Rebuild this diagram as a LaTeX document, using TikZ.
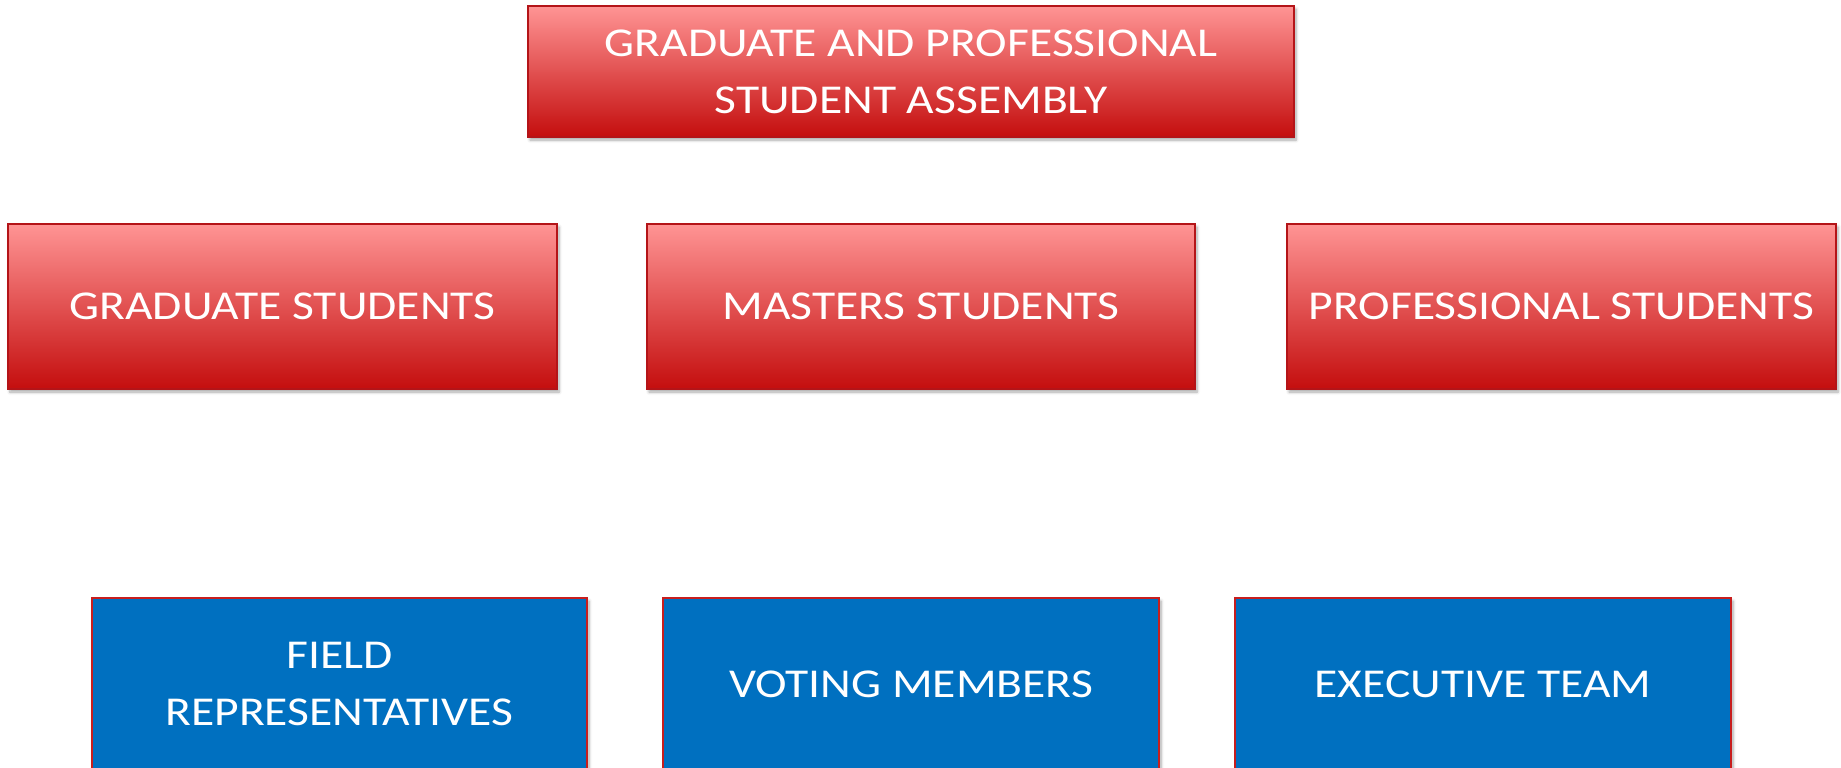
\documentclass[tikz,border=0pt]{standalone}
\usepackage{fontspec}
\setmainfont{Carlito}[FakeStretch=1.16]
\usetikzlibrary{shadows.blur}
\definecolor{redtop}{RGB}{255,148,148}
\definecolor{redbot}{RGB}{196,14,14}
\definecolor{redline}{RGB}{180,20,24}
\definecolor{bluefill}{RGB}{0,112,192}
\definecolor{blueline}{RGB}{200,30,30}
\tikzset{
  boxbase/.style={rectangle, inner sep=0pt, align=center, text=white,
    font=\fontsize{41bp}{57bp}\selectfont, line width=1.2bp,
    blur shadow={shadow xshift=2bp, shadow yshift=-3bp, shadow blur steps=6, shadow blur radius=3bp, shadow opacity=35}},
  redbox/.style={boxbase, draw=redline, top color=redtop, bottom color=redbot},
  bluebox/.style={boxbase, draw=blueline, fill=bluefill}
}
\begin{document}
\begin{tikzpicture}[x=1bp,y=-1bp]
\useasboundingbox (0,0) rectangle (1841,768);
\node[redbox, minimum width=766bp, minimum height=131bp] (gpsa) at (911,71.5) {GRADUATE AND PROFESSIONAL\\STUDENT ASSEMBLY};
\node[redbox, minimum width=549bp, minimum height=165bp] (grad) at (282.5,306.5) {GRADUATE STUDENTS};
\node[redbox, minimum width=548bp, minimum height=165bp] (mast) at (921,306.5) {MASTERS STUDENTS};
\node[redbox, minimum width=549bp, minimum height=165bp] (prof) at (1561.5,306.5) {PROFESSIONAL STUDENTS};
\node[bluebox, minimum width=495bp, minimum height=172bp] (field) at (339.5,684) {FIELD\\REPRESENTATIVES};
\node[bluebox, minimum width=496bp, minimum height=172bp] (vote) at (911,684) {VOTING MEMBERS};
\node[bluebox, minimum width=496bp, minimum height=172bp] (exec) at (1483,684) {EXECUTIVE TEAM};
\end{tikzpicture}
\end{document}
